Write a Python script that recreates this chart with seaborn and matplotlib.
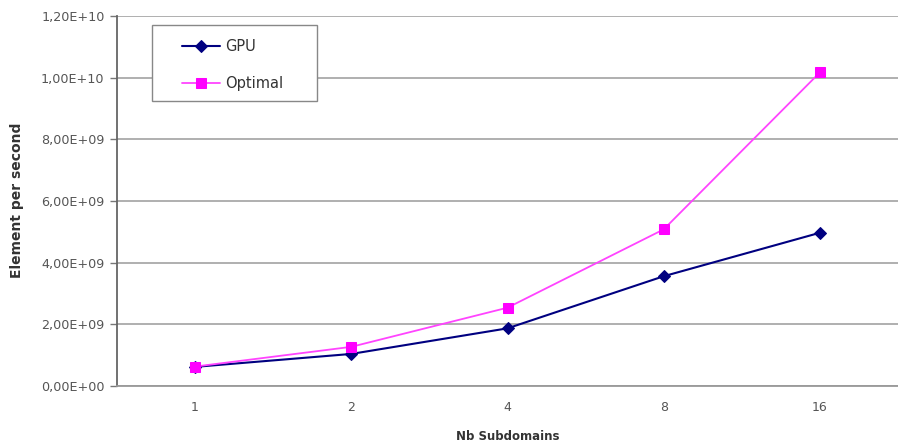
import matplotlib
matplotlib.use("Agg")
import matplotlib.pyplot as plt
from matplotlib.patches import Rectangle
import seaborn as sns
import pandas as pd
import numpy as np

categories = ["1", "2", "4", "8", "16"]
gpu = [0.62e9, 1.04e9, 1.87e9, 3.56e9, 4.97e9]
optimal = [0.63e9, 1.27e9, 2.54e9, 5.08e9, 10.17e9]
y_ticks = [0, 2e9, 4e9, 6e9, 8e9, 1e10, 1.2e10]
y_tick_labels = ["0,00E+00", "2,00E+09", "4,00E+09", "6,00E+09",
                 "8,00E+09", "1,00E+10", "1,20E+10"]

sns.set_theme(style="white")
plt.rcParams["font.family"] = ["DejaVu Sans"]

df = pd.DataFrame({
    "pos": list(range(len(categories))) * 2,
    "value": gpu + optimal,
    "series": ["GPU"] * len(gpu) + ["Optimal"] * len(optimal),
})

fig = plt.figure(figsize=(8.98, 4.48), dpi=100)
ax = fig.add_axes([0.1303, 0.1384, 0.8697, 0.8259])

sns.lineplot(data=df[df.series == "GPU"], x="pos", y="value", ax=ax,
             color="#000080", linewidth=1.5, marker="D", markersize=6.3,
             markeredgecolor="#000080", label="GPU", zorder=3)
sns.lineplot(data=df[df.series == "Optimal"], x="pos", y="value", ax=ax,
             color="#FF44FF", linewidth=1.3, marker="s", markersize=7.5,
             markerfacecolor="#FF00FF", markeredgecolor="#FF00FF",
             label="Optimal", zorder=4)

ax.set_xlim(-0.5, len(categories) - 0.5)
ax.set_ylim(0, 1.2e10)
ax.set_yticks(y_ticks)
ax.set_yticklabels(y_tick_labels, fontsize=9.2, color="#555555")
ax.set_xticks(range(len(categories)))
ax.set_xticklabels(categories, fontsize=9, color="#555555")
ax.set_xticks(np.arange(-0.5, len(categories), 1.0), minor=True)
ax.tick_params(axis="x", which="major", length=0, pad=11)
ax.tick_params(axis="x", which="minor", length=4, color="#888888", width=1)
ax.tick_params(axis="y", length=5, color="#777777", width=1, pad=4, left=True)

ax.grid(axis="y", color="#9a9a9a", linewidth=1.1)
ax.grid(axis="x", visible=False)
for side in ("top", "right"):
    ax.spines[side].set_visible(False)
ax.spines["left"].set_color("#666666")
ax.spines["bottom"].set_color("#999999")
ax.spines["left"].set_linewidth(1.3)
ax.spines["bottom"].set_linewidth(1.3)

ax.set_xlabel("Nb Subdomains", fontsize=8.5, fontweight="bold", color="#333333")
ax.xaxis.set_label_coords(0.5006, -0.118)
ax.set_ylabel("Element per second", fontsize=10, fontweight="bold", color="#333333")
ax.yaxis.set_label_coords(-0.119, 0.503)

# legend entries without their own frame, boxed by a plain rectangle
leg = ax.legend(loc="upper left", bbox_to_anchor=(0.0832, 0.9386), frameon=False,
                fontsize=10.5, handlelength=2.6, handletextpad=0.35,
                borderpad=0, labelspacing=1.55, borderaxespad=0)
for t in leg.get_texts():
    t.set_color("#333333")
ax.add_patch(Rectangle((0.0448, 0.770), 0.2113, 0.2060, transform=ax.transAxes,
                       facecolor="white", edgecolor="#888888", linewidth=1.0,
                       zorder=5))
leg.set_zorder(6)

fig.savefig("out.png", dpi=100)
